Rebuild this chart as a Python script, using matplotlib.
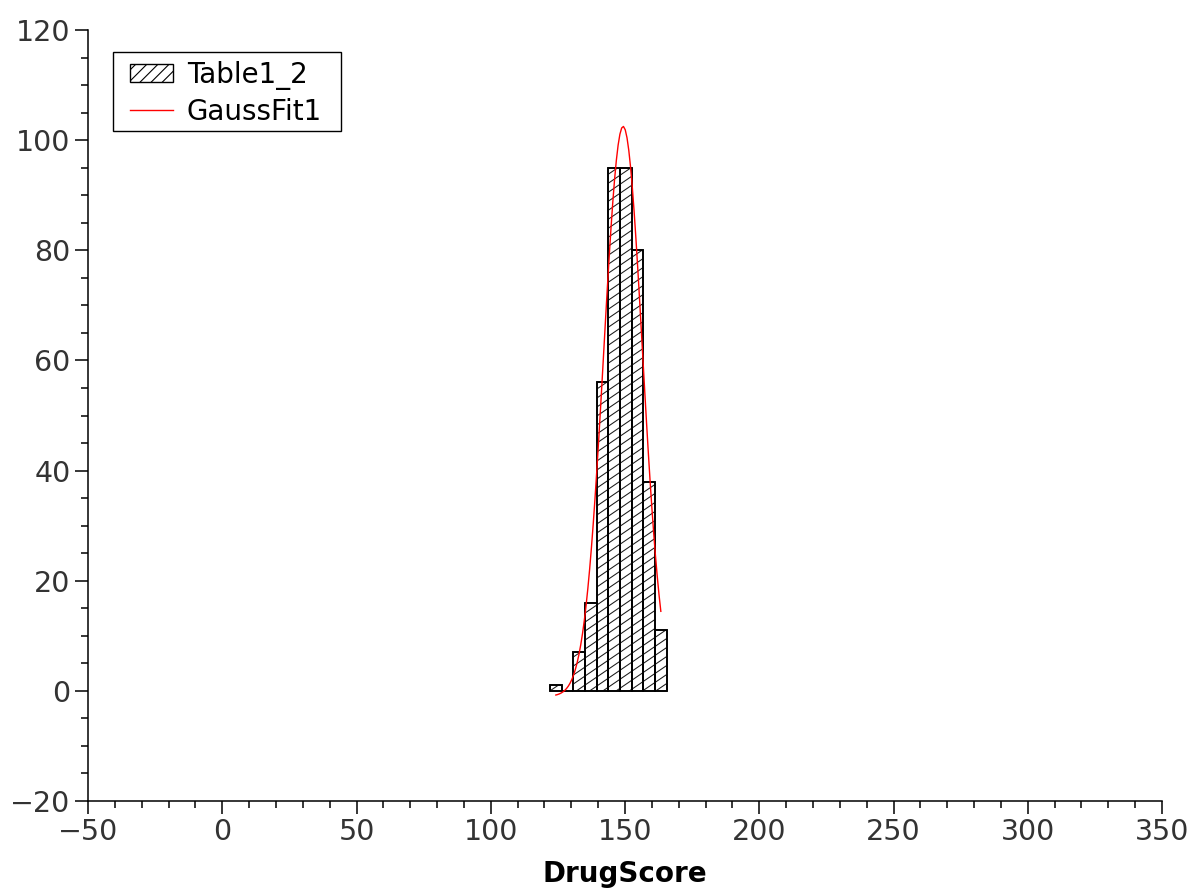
import numpy as np
import matplotlib
matplotlib.use("Agg")
import matplotlib.pyplot as plt
from matplotlib.ticker import MultipleLocator
from matplotlib.collections import LineCollection
from matplotlib.patches import Patch, Rectangle
from matplotlib.lines import Line2D
from matplotlib.path import Path
from matplotlib.transforms import IdentityTransform

# Histogram of DrugScore values
bin_edges = [122.07, 126.41, 130.76, 135.10, 139.45, 143.79,
             148.14, 152.48, 156.83, 161.17, 165.52]
counts = [1, 0, 7, 16, 56, 95, 95, 80, 38, 11]

# Gaussian fit parameters (offset, amplitude, centre, width)
fit_y0 = -1.0
fit_A = 103.5
fit_xc = 149.3
fit_w = 7.2

plt.rcParams["font.family"] = ["DejaVu Sans"]
plt.rcParams["hatch.linewidth"] = 0.8

W, H = 1193, 889
fig = plt.figure(figsize=(W / 100, H / 100), dpi=100)
ax = fig.add_axes([88 / W, 88 / H, 1074 / W, 771 / H])

edges = np.array(bin_edges)
widths = np.diff(edges)
ax.bar(edges[:-1], counts, width=widths, align="edge", facecolor="white",
       edgecolor="black", linewidth=1.2, zorder=2)

ax.set_xlim(-50, 350)
ax.set_ylim(-20, 120)

# Shallow diagonal hatching, clipped to the union of the bars
verts, codes = [], []
for x0, w, h in zip(edges[:-1], widths, counts):
    if h <= 0:
        continue
    verts += [(x0, 0), (x0 + w, 0), (x0 + w, h), (x0, h), (x0, 0)]
    codes += [Path.MOVETO, Path.LINETO, Path.LINETO, Path.LINETO, Path.CLOSEPOLY]
clip = Path(verts, codes)

(px0, py0), (px1, py1) = ax.transData.transform(
    [(edges[0], 0), (edges[-1], max(counts))])
slope, step = 0.68, 9.0
k_lo = -int(np.ceil(slope * (px1 - px0) / step)) - 1
k_hi = int(np.ceil((py1 - py0) / step)) + 1
segs = [[(px0, py0 + k * step), (px1, py0 + k * step + slope * (px1 - px0))]
        for k in range(k_lo, k_hi + 1)]
hatch = LineCollection(segs, colors="#1a1a1a", linewidths=0.75,
                       transform=IdentityTransform(), zorder=2.5)
hatch.set_clip_path(clip, ax.transData)
ax.add_collection(hatch, autolim=False)

# Outline the bars again above the hatching
ax.bar(edges[:-1], counts, width=widths, align="edge", fill=False,
       edgecolor="black", linewidth=1.2, zorder=3)

centers = (edges[:-1] + edges[1:]) / 2
xs = np.linspace(centers[0], centers[-1], 60)
ys = fit_y0 + fit_A * np.exp(-(xs - fit_xc) ** 2 / (2 * fit_w ** 2))
ax.plot(xs, ys, color="#ff0000", linewidth=1.0, zorder=4)

ax.set_xlim(-50, 350)
ax.set_ylim(-20, 120)
ax.xaxis.set_major_locator(MultipleLocator(50))
ax.xaxis.set_minor_locator(MultipleLocator(10))
ax.yaxis.set_major_locator(MultipleLocator(20))
ax.yaxis.set_minor_locator(MultipleLocator(5))

for side in ("top", "right"):
    ax.spines[side].set_visible(False)
for side in ("left", "bottom"):
    ax.spines[side].set_linewidth(1.1)
ax.tick_params(which="major", length=9.5, width=1.1, labelsize=20.5,
               labelcolor="#333333", direction="out", pad=3)
ax.tick_params(which="minor", length=5, width=1.1, direction="out")

ax.set_xlabel("DrugScore", fontsize=20, fontweight="bold", labelpad=10)

# Legend: entries without frame, frame drawn as a separate box
handles = [Patch(facecolor="white", edgecolor="black", hatch="///", linewidth=1.0),
           Line2D([], [], color="#ff0000", linewidth=1.0)]
leg = fig.legend(handles, ["Table1_2", "GaussFit1"], loc="upper left",
                 bbox_to_anchor=(130 / W, 1 - 61 / H),
                 bbox_transform=fig.transFigure, borderaxespad=0,
                 borderpad=0, fontsize=20, frameon=False,
                 handlelength=1.55, handleheight=0.6, handletextpad=0.5,
                 labelspacing=0.27)
fig.patches.append(Rectangle((113 / W, 1 - 131 / H), 228 / W, 79 / H,
                             transform=fig.transFigure, fill=False,
                             edgecolor="black", linewidth=1.0))

fig.savefig("out.png", dpi=100)
